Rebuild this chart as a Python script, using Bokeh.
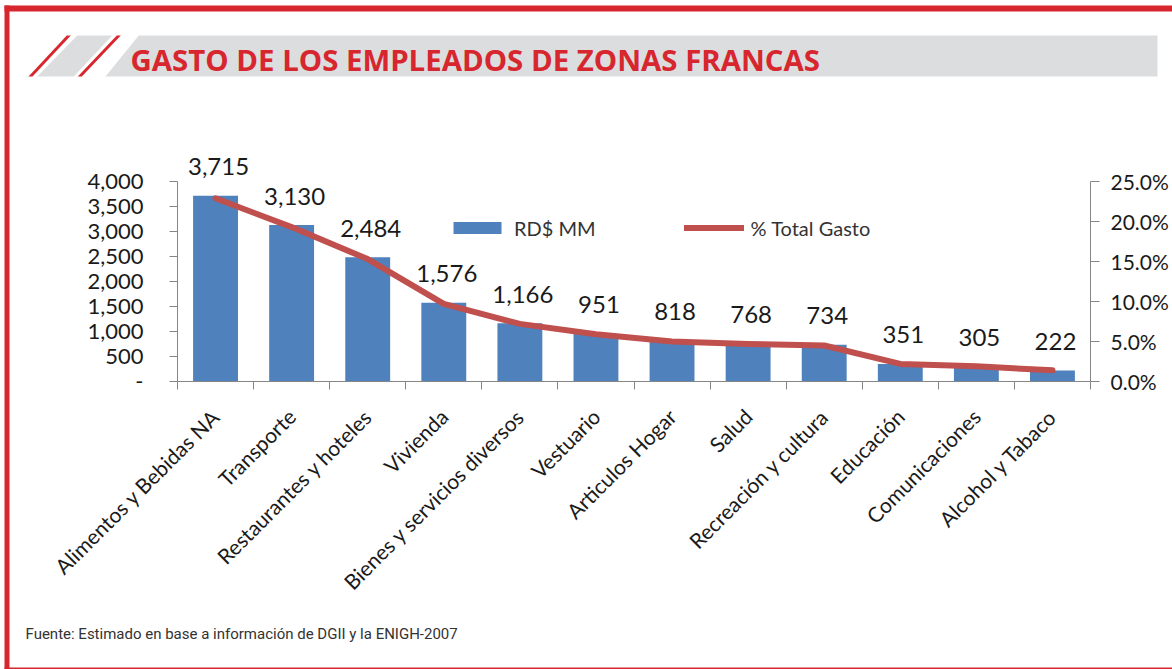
from math import pi
from bokeh.plotting import figure
from bokeh.models import (ColumnDataSource, Range1d, LinearAxis, FixedTicker,
                          NumeralTickFormatter, PrintfTickFormatter, LabelSet,
                          Legend, LegendItem)
from bokeh.core.properties import value
from bokeh.embed import file_html
from bokeh.resources import INLINE

# ---------------- data ----------------
categories = ["Alimentos y Bebidas NA", "Transporte", "Restaurantes y hoteles",
              "Vivienda", "Bienes y servicios diversos", "Vestuario",
              "Articulos Hogar", "Salud", "Recreación y cultura", "Educación",
              "Comunicaciones", "Alcohol y Tabaco"]
gasto_rd_mm = [3715, 3130, 2484, 1576, 1166, 951, 818, 768, 734, 351, 305, 222]
pct_total_gasto = [22.9, 19.3, 15.3, 9.7, 7.2, 5.9, 5.0, 4.7, 4.5, 2.2, 1.9, 1.4]
left_ticks = [0, 500, 1000, 1500, 2000, 2500, 3000, 3500, 4000]
right_ticks = [0, 5, 10, 15, 20, 25]
series_names = ["RD$ MM", "% Total Gasto"]
title_text = "GASTO DE LOS EMPLEADOS DE ZONAS FRANCAS"
source_text = "Fuente: Estimado en base a información de DGII y la ENIGH-2007"

# ---------------- layout constants (canvas pixels) ----------------
W, H = 1172, 669
AX_L, AX_R = 177, 1090          # left / right value axes
Y0, YTOP = 381, 181             # baseline and top of the value axes
LEFT_MAX, RIGHT_MAX = 4000, 25
RED = "#D7262D"
GRAY = "#DCDDDF"
BLUE = "#4F81BD"
LINE = "#C0504D"
AXIS = "#868686"
TXT = "#1a1a1a"

n = len(categories)
cw = (AX_R - AX_L) / n
py = (Y0 - YTOP) / LEFT_MAX
pp = (Y0 - YTOP) / RIGHT_MAX

centers = [i + 0.5 for i in range(n)]
src = ColumnDataSource(dict(x=centers, v=gasto_rd_mm, pct=pct_total_gasto,
                            lbl=[f"{v:,}" for v in gasto_rd_mm]))

p = figure(width=W, height=H, output_backend="svg", toolbar_location=None,
           x_range=Range1d(-AX_L / cw, n + (W - AX_R) / cw),
           y_range=Range1d(-(H - Y0) / py, Y0 / py),
           x_axis_location=None, y_axis_location=None, title=None,
           min_border=0, min_border_left=0, min_border_right=0,
           min_border_top=0, min_border_bottom=0)
p.outline_line_color = None
p.xgrid.visible = False
p.ygrid.visible = False
p.background_fill_color = "white"
p.border_fill_color = "white"

p.extra_y_ranges = {"pct": Range1d(-(H - Y0) / pp, Y0 / pp), "cy": Range1d(H, 0)}
p.extra_x_ranges = {"cx": Range1d(0, W)}

# ---------------- decorations (canvas pixel ranges) ----------------
def shape(xs, ys, color):
    p.patch(x=xs, y=ys, x_range_name="cx", y_range_name="cy",
            fill_color=color, line_color=None)

shape([4, W, W, 4], [5, 5, 11, 11], RED)            # top border
shape([4, 9, 9, 4], [5, 5, H, H], RED)              # left border
shape([4, W, W, 4], [667, 667, H, H], RED)          # bottom border
shape([105, 138.3, 1157, 1157], [76, 35, 35, 76], GRAY)   # title band
shape([36.7, 73.3, 111.7, 76.7], [76, 76, 35, 35], GRAY)  # small band piece
shape([28, 32, 70.3, 66.3], [76, 76, 35, 35], RED)        # slash 1
shape([77.3, 81.3, 120.3, 116.3], [76, 76, 35, 35], RED)  # slash 2

p.text(x=[130], y=[59.8], text=[title_text], x_range_name="cx", y_range_name="cy",
       text_font=value("Open Sans"), text_font_style="bold", text_font_size="29.4px",
       text_color=RED, text_align="left", text_baseline="alphabetic")
p.text(x=[25], y=[633.7], text=[source_text], x_range_name="cx", y_range_name="cy",
       text_font=value("Roboto"), text_font_size="15px", text_color="#333333",
       text_align="left", text_baseline="alphabetic")

# ---------------- axes ----------------
yl = LinearAxis(ticker=FixedTicker(ticks=left_ticks), fixed_location=0,
                formatter=NumeralTickFormatter(format="0,0"),
                major_label_overrides={0: "-"}, bounds=(0, LEFT_MAX),
                axis_line_color=AXIS, major_tick_line_color=AXIS,
                major_tick_out=8, major_tick_in=0, minor_tick_out=0, minor_tick_in=0,
                major_label_standoff=26, major_label_text_font="Lato",
                major_label_text_font_size="22px", major_label_text_color=TXT)
p.add_layout(yl, "left")

yr = LinearAxis(y_range_name="pct", ticker=FixedTicker(ticks=right_ticks),
                fixed_location=n,
                formatter=PrintfTickFormatter(format="%.1f%%"), bounds=(0, RIGHT_MAX),
                axis_line_color=AXIS, major_tick_line_color=AXIS,
                major_tick_out=9, major_tick_in=0, minor_tick_out=0, minor_tick_in=0,
                major_label_standoff=11, major_label_text_font="Lato",
                major_label_text_font_size="21px", major_label_text_color=TXT)
p.add_layout(yr, "right")

xa = LinearAxis(ticker=FixedTicker(ticks=centers, minor_ticks=list(range(n + 1))),
                fixed_location=0,
                major_label_overrides=dict(zip(centers, categories)),
                major_label_orientation=pi / 4, bounds=(0, n),
                axis_line_color=AXIS, major_tick_line_color=None,
                minor_tick_line_color=AXIS,
                major_tick_out=0, major_tick_in=0, minor_tick_out=8, minor_tick_in=0,
                major_label_standoff=23, major_label_text_font="Lato",
                major_label_text_font_size="21px", major_label_text_color=TXT)
p.add_layout(xa, "below")

# ---------------- series ----------------
bars = p.vbar(x="x", top="v", bottom=0, width=0.59, source=src,
              fill_color=BLUE, line_color=None)
line = p.line(x="x", y="pct", y_range_name="pct", source=src, line_color=LINE,
              line_width=6, line_cap="round", line_join="round")

labels = LabelSet(x="x", y="v", text="lbl", source=src, x_offset=3, y_offset=29,
                  text_align="center", text_baseline="middle",
                  text_font=value("Lato"), text_font_size="24px", text_color=TXT)
p.add_layout(labels)

legend = Legend(items=[LegendItem(label=series_names[0], renderers=[bars]),
                       LegendItem(label=series_names[1], renderers=[line])],
                orientation="horizontal", location=(447, 429.5),
                glyph_width=60, glyph_height=15, label_standoff=7, spacing=88,
                padding=0, margin=0, border_line_color=None, background_fill_alpha=0,
                label_text_font="Lato", label_text_font_size="20px",
                label_text_color="#333333")
p.add_layout(legend)

open("out.html", "w").write(file_html(p, INLINE))
